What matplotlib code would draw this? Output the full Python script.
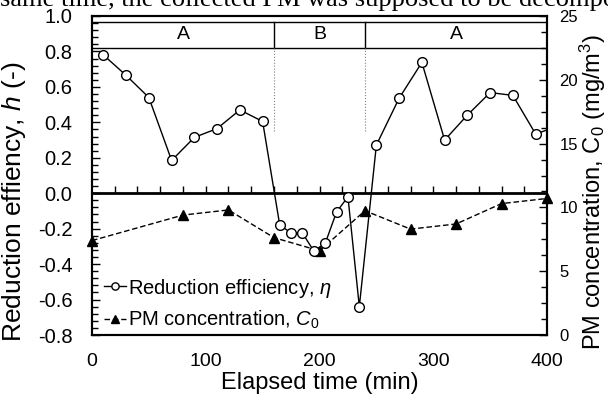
import numpy as np
import matplotlib
matplotlib.use("Agg")
import matplotlib.pyplot as plt
from matplotlib.ticker import MultipleLocator

plt.rcParams['font.family'] = ['Liberation Sans', 'DejaVu Sans']
plt.rcParams['mathtext.fontset'] = 'custom'
plt.rcParams['mathtext.rm'] = 'Liberation Sans'
plt.rcParams['mathtext.it'] = 'Liberation Sans:italic'

# reduction efficiency (left axis)
t_eta = [10, 30, 50, 70, 90, 110, 130, 150, 165, 175, 185, 195, 205, 215, 225, 235,
         250, 270, 290, 310, 330, 350, 370, 390, 410]
eta = [0.78, 0.665, 0.54, 0.185, 0.315, 0.365, 0.47, 0.405, -0.178, -0.225, -0.225, -0.326,
       -0.283, -0.106, -0.02, -0.64, 0.272, 0.536, 0.738, 0.30, 0.441, 0.568, 0.552, 0.334, 0.38]

# PM concentration (right axis)
t_c0 = [0, 80, 120, 160, 200, 240, 280, 320, 360, 400]
c0 = [7.4, 9.4, 9.8, 7.63, 6.6, 9.74, 8.3, 8.7, 10.3, 10.7]

# operating periods
periods = ['A', 'B', 'A']
period_edges = [0, 160, 240, 400]

yticks = [-0.8, -0.6, -0.4, -0.2, 0.0, 0.2, 0.4, 0.6, 0.8, 1.0]

fig = plt.figure(figsize=(6.08, 4.03), dpi=100)
ax = fig.add_axes([0.1513, 0.1687, 0.8997 - 0.1513, 0.9603 - 0.1687])
ax2 = ax.twinx()

ax.set_xlim(0, 400)
ax.set_ylim(-0.8, 1.0)
ax2.set_ylim(0, 25)

# caption text cut off at the top of the picture
fig.text(0.0, 0.986, "same time, the collected PM was supposed to be decompos",
         family='Liberation Serif', fontsize=19, va='baseline', ha='left')

ax2.plot(t_c0, c0, ls='--', lw=1, color='k', marker='^', ms=7, mfc='k', mec='k',
         dashes=(4, 2), label='PM concentration, $C_0$', clip_on=False, zorder=3)
ax.plot(t_eta, eta, ls='-', lw=1, color='k', marker='o', ms=7, mfc='white', mec='k',
        mew=1, label='Reduction efficiency, $\\eta$', zorder=4)
ax.set_zorder(ax2.get_zorder() + 1)
ax.patch.set_visible(False)

# period band at the top
ax.axhline(0.968, color='k', lw=1)
ax.axhline(0.818, color='k', lw=1)
for e in period_edges[1:-1]:
    ax.plot([e, e], [0.818, 0.968], color='k', lw=1)
    ax.plot([e, e], [0.35, 0.818], color='gray', lw=0.8, ls=':')
for i, p in enumerate(periods):
    xc = (period_edges[i] + period_edges[i + 1]) / 2
    ax.text(xc, 0.893, p, ha='center', va='center', fontsize=14)

# zero line with ticks
ax.axhline(0, color='k', lw=2)
sec = ax.secondary_xaxis(0.8 / 1.8)
sec.set_xticks(np.arange(20, 400, 20))
sec.tick_params(direction='in', length=5, width=1, labelbottom=False)
sec.spines['bottom'].set_visible(False)

ax.set_xticks([0, 100, 200, 300, 400])
ax.tick_params(axis='x', length=0, pad=13, labelsize=14)
ax.yaxis.set_minor_locator(MultipleLocator(0.04))
ax.set_yticks(yticks)
ax.set_yticklabels([f"{v:.1f}" for v in yticks])
ax.tick_params(axis='y', which='major', direction='in', length=6, width=1, pad=14, labelsize=14.5)
ax.tick_params(axis='y', which='minor', direction='in', length=4, width=1)

ax2.yaxis.set_major_locator(MultipleLocator(5))
ax2.yaxis.set_minor_locator(MultipleLocator(1.25))
ax2.tick_params(axis='y', which='major', direction='in', length=6, width=1, pad=9, labelsize=12)
ax2.tick_params(axis='y', which='minor', direction='in', length=4, width=1)

for a in (ax, ax2):
    for s in a.spines.values():
        s.set_linewidth(1.5)

ax.set_xlabel('Elapsed time (min)', fontsize=17)
ax.xaxis.set_label_coords(0.5, -0.115)
ax.set_ylabel('Reduction effiency, $h$ (-)', fontsize=19)
ax.yaxis.set_label_coords(-0.14, 0.417)
ax2.set_ylabel('PM concentration, C$_0$ (mg/m$^3$)', fontsize=17, rotation=90)
ax2.yaxis.set_label_coords(1.068, 0.45)

h1, l1 = ax.get_legend_handles_labels()
h2, l2 = ax2.get_legend_handles_labels()
ax.legend(h1 + h2, l1 + l2, loc='lower left', bbox_to_anchor=(0.0, -0.025), frameon=False,
          fontsize=14.5, handlelength=1.1, handletextpad=0.1, labelspacing=0.45,
          borderaxespad=0.2, markerscale=0.75)

fig.savefig('out.png', dpi=100)
